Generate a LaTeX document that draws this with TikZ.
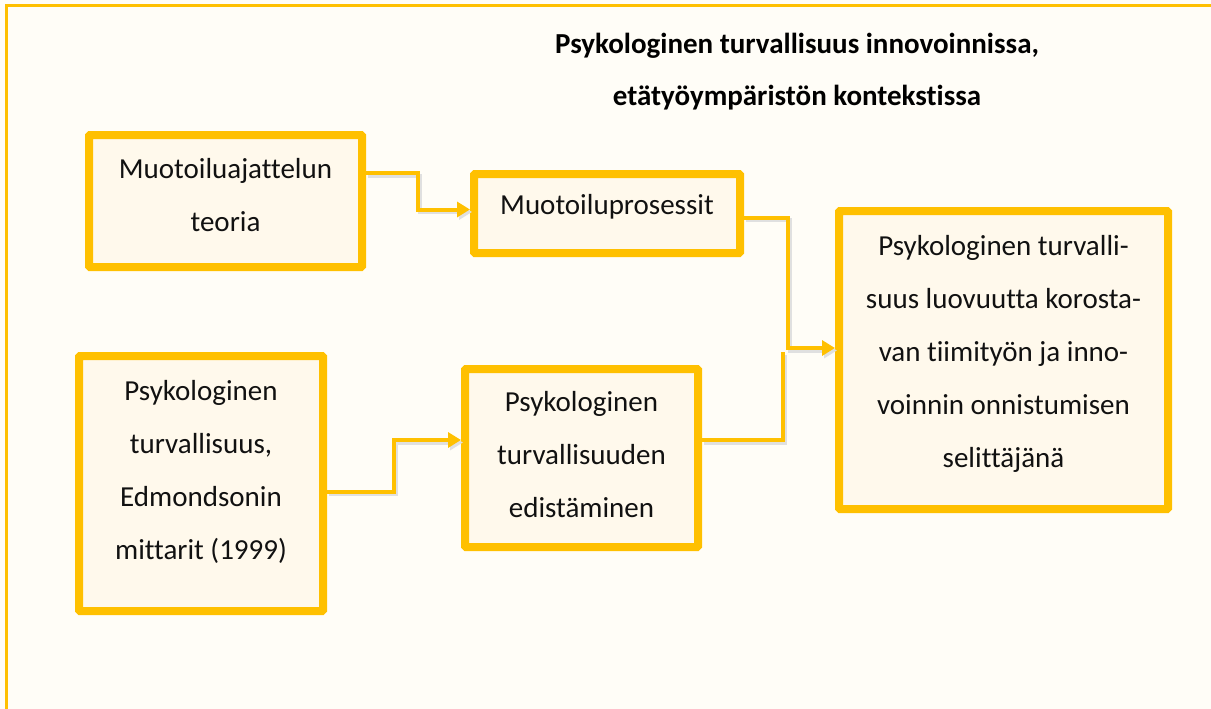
\documentclass[tikz,border=0pt]{standalone}
\usepackage{fontspec}
\setmainfont{Carlito}[Ligatures={CommonOff,ContextualOff}]
\usepackage{tikz}
\usetikzlibrary{arrows.meta,positioning}
\definecolor{framegold}{HTML}{FFC000}
\definecolor{pagecream}{HTML}{FFFDF7}
\definecolor{boxcream}{HTML}{FFF9EC}
\definecolor{bodytext}{HTML}{111111}
\tikzset{
    conceptbox/.style={draw=framegold, line width=8pt, fill=boxcream, rounded corners=1pt, inner sep=0pt},
    boxtext/.style={align=center, text=bodytext, font=\fontsize{29}{53}\selectfont},
    link/.style={draw=framegold, line width=4pt,
        preaction={draw=black!12, line width=4pt, transform canvas={shift={(2pt,-2.5pt)}}}},
    arrowlink/.style={link, -{Triangle[length=13pt, width=15pt]}}
}

\begin{document}
\begin{tikzpicture}[x=1pt, y=-1pt]
    \fill[pagecream] (0,0) rectangle (1211,709);
    \useasboundingbox (0,0) rectangle (1211,709);
    \draw[framegold, line width=3pt] (6,709) |- (1211,6);

    \node[align=center, text=black, font=\fontsize{29}{52}\selectfont\bfseries] (otsikko) at (797,72)
        {Psykologinen turvallisuus innovoinnissa,\\etätyöympäristön kontekstissa};

    \node[conceptbox, minimum width=273pt, minimum height=132pt] (teoria) at (225.5,201) {};
    \node[conceptbox, minimum width=266pt, minimum height=79pt] (prosessit) at (607,213.5) {};
    \node[conceptbox, minimum width=329pt, minimum height=298pt] (selittaja) at (1003.5,360) {};
    \node[conceptbox, minimum width=244pt, minimum height=255pt] (mittarit) at (201,483.5) {};
    \node[conceptbox, minimum width=233pt, minimum height=178pt] (edistaminen) at (581.5,458) {};

    \node[boxtext] (teoriateksti) at ([yshift=6pt]teoria.center) {Muotoiluajattelun\\teoria};
    \node[boxtext] (prosessitteksti) at ([yshift=7pt]prosessit.center) {Muotoiluprosessit};
    \node[boxtext] (selittajateksti) at ([yshift=6pt]selittaja.center)
        {Psykologinen turvalli-\\suus luovuutta korosta-\\van tiimityön ja inno-\\voinnin onnistumisen\\selittäjänä};
    \node[boxtext] (mittaritteksti) at ([yshift=12pt]mittarit.center)
        {Psykologinen\\turvallisuus,\\Edmondsonin\\mittarit (1999)};
    \node[boxtext] (edistaminenteksti) at ([yshift=3pt]edistaminen.center)
        {Psykologinen\\turvallisuuden\\edistäminen};

    \coordinate (liitos) at (783,352);

    \draw[arrowlink] ([yshift=28pt]teoria.east) -- ++(52,0) |- ([yshift=4pt]prosessit.west);
    \draw[arrowlink] ([yshift=-4pt]prosessit.east) -- ++(44,0) |- ([yshift=12pt]selittaja.west);
    \draw[arrowlink] ([yshift=-8pt]mittarit.east) -- ++(67,0) |- ([yshift=18pt]edistaminen.west);
    \draw[link] ([yshift=18pt]edistaminen.east) -| (liitos);
\end{tikzpicture}
\end{document}
